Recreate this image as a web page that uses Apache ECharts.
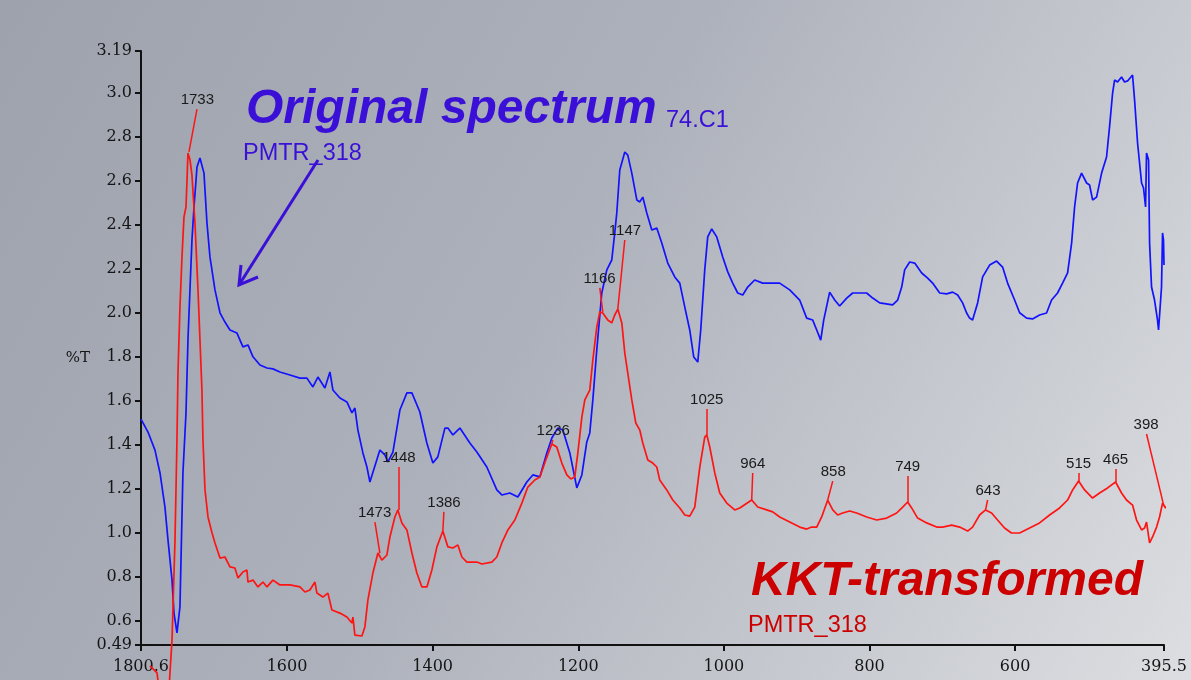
<!DOCTYPE html>
<html>
<head>
<meta charset="utf-8">
<script src="https://cdn.jsdelivr.net/npm/echarts@6.0.0/dist/echarts.min.js"></script>
<style>
  html, body { margin: 0; padding: 0; }
  #chart { width: 1191px; height: 680px; }
</style>
</head>
<body>
<div id="chart"></div>
<script>
// wavenumber (cm-1) and %T
const blueWn = [1800.6,1791.0,1781.4,1774.5,1767.7,1763.5,1758.0,1755.3,1751.2,1747.1,
  1743.0,1738.8,1736.1,1730.6,1727.8,1723.7,1719.6,1716.9,1714.1,1710.0,
  1705.9,1699.0,1692.1,1685.3,1678.4,1668.8,1660.6,1653.7,1646.8,1637.2,
  1627.6,1619.4,1609.8,1596.0,1582.3,1572.7,1564.5,1557.6,1548.0,1541.1,
  1537.0,1527.4,1517.8,1510.9,1506.8,1502.7,1495.8,1490.3,1486.2,1472.5,
  1465.6,1461.5,1454.6,1445.0,1435.4,1428.5,1417.6,1408.0,1399.7,1392.9,
  1383.2,1379.1,1372.2,1362.6,1348.9,1339.3,1325.6,1311.9,1305.0,1294.0,
  1283.0,1270.7,1262.4,1252.8,1243.2,1236.3,1228.1,1221.2,1211.6,1202.0,
  1195.1,1188.3,1184.2,1180.0,1174.6,1167.7,1160.8,1154.0,1149.9,1147.1,
  1143.0,1136.1,1132.0,1126.5,1119.6,1115.5,1111.4,1105.9,1099.0,1092.2,
  1085.3,1077.1,1067.5,1060.6,1053.7,1046.9,1041.4,1035.9,1031.8,1026.3,
  1022.2,1016.7,1009.8,1001.6,994.7,987.9,981.0,974.1,967.3,957.7,
  946.7,937.1,923.4,909.6,895.9,886.3,878.0,872.5,867.0,862.9,
  854.7,847.8,841.0,831.3,823.1,803.9,795.6,786.0,768.2,761.3,
  755.8,751.7,744.8,737.9,728.3,720.1,713.3,703.6,694.0,685.8,
  678.9,672.1,666.6,662.5,658.4,651.5,644.6,635.0,625.4,617.2,
  610.3,600.7,593.8,584.2,576.0,566.4,556.8,549.9,541.7,534.8,
  527.9,522.4,518.3,514.2,508.7,501.8,497.7,493.6,488.1,481.2,
  474.4,470.3,466.1,463.4,459.3,453.8,449.7,445.5,438.7,435.9,
  431.8,426.3,423.6,420.8,419.5,416.7,415.3,412.6,408.5,404.4,
  403.0,398.9,397.5,396.2,395.5];
const blueT = [1.517,1.458,1.376,1.272,1.117,0.967,0.785,0.635,0.545,0.663,
  1.272,1.545,1.876,2.331,2.481,2.663,2.704,2.708,2.635,2.408,
  2.254,2.104,2.0,1.958,1.922,1.908,1.845,1.854,1.8,1.763,
  1.749,1.745,1.731,1.717,1.703,1.703,1.663,1.708,1.658,1.731,
  1.649,1.613,1.595,1.545,1.567,1.467,1.363,1.299,1.231,1.376,
  1.354,1.322,1.367,1.558,1.636,1.636,1.549,1.408,1.317,1.345,
  1.476,1.476,1.445,1.476,1.408,1.367,1.299,1.195,1.172,1.181,
  1.163,1.231,1.263,1.254,1.363,1.431,1.476,1.467,1.363,1.204,
  1.263,1.413,1.454,1.604,1.831,2.09,2.195,2.24,2.363,2.454,
  2.649,2.731,2.717,2.635,2.513,2.504,2.526,2.454,2.376,2.385,
  2.317,2.226,2.163,2.135,2.026,1.922,1.799,1.776,1.922,2.195,
  2.345,2.381,2.345,2.254,2.186,2.135,2.09,2.081,2.117,2.149,
  2.135,2.135,2.135,2.104,2.058,1.976,1.967,1.922,1.876,1.967,
  2.094,2.058,2.031,2.067,2.09,2.09,2.067,2.045,2.036,2.058,
  2.117,2.195,2.231,2.226,2.181,2.158,2.135,2.09,2.086,2.094,
  2.081,2.045,1.999,1.976,1.967,2.045,2.163,2.217,2.235,2.208,
  2.135,2.058,2.0,1.976,1.972,1.99,1.999,2.058,2.09,2.135,
  2.181,2.317,2.481,2.59,2.635,2.59,2.581,2.513,2.526,2.635,
  2.708,2.845,2.999,3.058,3.049,3.072,3.049,3.054,3.081,2.967,
  2.772,2.59,2.567,2.481,2.726,2.695,2.317,2.117,2.058,1.967,
  1.922,2.117,2.363,2.331,2.217];

const redWn = [1788.2,1778.6,1770.4,1761.4,1758.0,1753.9,1751.2,1749.8,1747.1,1744.3,
  1741.6,1738.8,1737.4,1736.1,1734.7,1733.3,1730.6,1726.5,1722.3,1719.6,
  1716.9,1715.5,1712.7,1708.6,1703.1,1699.0,1692.1,1685.3,1678.4,1671.6,
  1667.4,1660.6,1655.1,1653.7,1646.8,1640.0,1633.1,1627.6,1619.4,1609.8,
  1596.0,1582.3,1575.4,1568.6,1561.7,1559.0,1550.7,1543.9,1538.4,1527.4,
  1517.8,1510.9,1509.5,1506.8,1497.2,1493.1,1489.0,1482.1,1475.2,1469.7,
  1462.9,1458.7,1451.9,1447.8,1442.3,1435.4,1428.5,1421.7,1414.8,1407.9,
  1401.1,1394.2,1386.0,1379.1,1372.2,1365.4,1359.9,1353.0,1339.3,1332.4,
  1318.7,1311.9,1305.0,1296.7,1287.1,1277.5,1269.3,1259.7,1252.8,1244.6,
  1236.3,1229.5,1222.6,1215.7,1210.3,1204.8,1200.6,1195.1,1191.0,1184.2,
  1180.0,1174.6,1170.4,1166.3,1159.5,1154.0,1149.9,1145.7,1140.2,1136.1,
  1132.0,1126.5,1121.0,1115.5,1111.4,1104.5,1097.7,1092.2,1088.1,1078.5,
  1070.2,1060.6,1053.7,1046.9,1040.0,1033.1,1026.3,1023.5,1019.4,1012.5,
  1005.7,996.1,985.1,978.2,961.8,953.5,941.2,932.9,923.3,909.6,
  895.9,886.3,879.5,872.5,865.7,857.4,850.5,843.7,836.8,827.2,
  817.6,803.9,790.1,776.4,762.7,754.4,747.6,742.1,733.9,721.5,
  707.8,699.5,687.2,676.2,665.2,658.4,648.8,640.6,632.3,624.1,
  614.5,605.0,593.8,580.1,566.4,552.6,538.9,527.9,521.0,512.8,
  504.6,493.6,484.0,473.0,462.0,453.8,447.0,438.7,433.2,426.3,
  422.2,419.5,415.3,411.2,405.7,401.6,397.5,393.4,390.6];
const redT = [0.395,0.363,0.15,0.331,0.513,0.967,1.422,1.726,2.026,2.254,
  2.435,2.481,2.604,2.726,2.731,2.695,2.626,2.408,2.104,1.876,
  1.649,1.422,1.195,1.072,1.0,0.954,0.885,0.89,0.845,0.84,
  0.795,0.822,0.831,0.776,0.785,0.754,0.776,0.754,0.785,0.763,
  0.763,0.754,0.731,0.74,0.776,0.726,0.708,0.726,0.649,0.635,
  0.617,0.59,0.617,0.535,0.531,0.572,0.694,0.817,0.908,0.876,
  0.899,0.981,1.072,1.104,1.045,1.013,0.908,0.817,0.754,0.754,
  0.831,0.936,1.008,0.936,0.931,0.945,0.89,0.867,0.867,0.858,
  0.867,0.89,0.954,1.013,1.058,1.135,1.208,1.24,1.254,1.331,
  1.404,1.39,1.317,1.263,1.245,1.254,1.363,1.526,1.604,1.649,
  1.785,1.935,2.004,1.999,1.967,1.954,1.99,2.017,1.954,1.817,
  1.726,1.604,1.499,1.467,1.408,1.331,1.317,1.299,1.24,1.195,
  1.149,1.113,1.081,1.076,1.117,1.299,1.435,1.445,1.39,1.272,
  1.181,1.135,1.104,1.113,1.149,1.117,1.104,1.095,1.072,1.049,
  1.026,1.017,1.026,1.026,1.072,1.149,1.104,1.081,1.09,1.099,
  1.09,1.072,1.058,1.067,1.09,1.117,1.14,1.113,1.067,1.045,
  1.026,1.026,1.035,1.026,1.008,1.026,1.081,1.104,1.09,1.058,
  1.022,0.999,0.999,1.022,1.045,1.081,1.113,1.149,1.195,1.235,
  1.195,1.158,1.181,1.204,1.231,1.181,1.149,1.126,1.058,1.013,
  1.022,1.049,0.954,0.981,1.026,1.072,1.135,1.113,1.126];

// peak annotations on the KKT curve: peak point and the top of the leader line
const peakNames = ['1733','1473','1448','1386','1236','1166','1147','1025','964','858','749','643','515','465','398'];
const peakWn = [1734.7,1472.5,1446.4,1386.0,1236.3,1166.3,1145.7,1023.5,961.8,857.4,747.6,640.6,512.8,462.0,396.0];
const peakT  = [2.731,0.908,1.104,1.008,1.404,2.004,2.017,1.445,1.149,1.149,1.14,1.104,1.235,1.231,1.126];
const tagWn  = [1723.7,1479.3,1446.4,1384.6,1235.0,1170.4,1136.1,1023.5,960.4,850.5,747.6,637.8,512.8,462.0,419.5];
const tagT   = [2.926,1.049,1.299,1.095,1.422,2.113,2.331,1.563,1.272,1.235,1.258,1.149,1.272,1.29,1.449];

const xTickValues = [1800.6, 1600, 1400, 1200, 1000, 800, 600, 395.5];
const yTickValues = [0.49, 0.6, 0.8, 1.0, 1.2, 1.4, 1.6, 1.8, 2.0, 2.2, 2.4, 2.6, 2.8, 3.0, 3.19];
const yTickLabels = ['0.49','0.6','0.8','1.0','1.2','1.4','1.6','1.8','2.0','2.2','2.4','2.6','2.8','3.0','3.19'];

const blueData = blueWn.map((w, i) => [w, blueT[i]]);
const redData = redWn.map((w, i) => [w, redT[i]]);

const chart = echarts.init(document.getElementById('chart'));

const violet = '#3a10d8';
const serif = '"DejaVu Serif", "Liberation Serif", serif';
const sans = '"Liberation Sans", Arial, sans-serif';

const option = {
  animation: false,
  backgroundColor: {
    type: 'linear', x: 0, y: 0, x2: 1, y2: 1,
    colorStops: [
      { offset: 0, color: '#9ea2ad' },
      { offset: 0.45, color: '#adb1bb' },
      { offset: 1, color: '#dcdee1' }
    ]
  },
  grid: { left: 141, right: 27, top: 51, bottom: 35, outerBoundsMode: 'none' },
  xAxis: {
    type: 'value',
    inverse: true,
    min: 395.5,
    max: 1800.6,
    axisLine: { show: true, onZero: false, lineStyle: { color: '#111', width: 2 } },
    axisTick: { show: true, customValues: xTickValues, length: 6, lineStyle: { color: '#111', width: 2 } },
    axisLabel: {
      customValues: xTickValues,
      formatter: (v) => String(v),
      fontFamily: serif,
      fontSize: 16,
      color: '#151515',
      margin: 14
    },
    splitLine: { show: false }
  },
  yAxis: {
    type: 'value',
    min: 0.49,
    max: 3.19,
    axisLine: { show: true, lineStyle: { color: '#111', width: 2 } },
    axisTick: { show: true, customValues: yTickValues, length: 6, lineStyle: { color: '#111', width: 2 } },
    axisLabel: {
      customValues: yTickValues,
      formatter: (v) => {
        let best = 0;
        yTickValues.forEach((t, i) => { if (Math.abs(t - v) < Math.abs(yTickValues[best] - v)) best = i; });
        return yTickLabels[best];
      },
      fontFamily: serif,
      fontSize: 16,
      color: '#151515',
      margin: 9
    },
    splitLine: { show: false }
  },
  series: [
    {
      name: 'Original spectrum',
      type: 'line',
      data: blueData,
      showSymbol: false,
      clip: false,
      lineStyle: { color: '#1212ff', width: 1.7 },
      itemStyle: { color: '#1212ff' },
      silent: true
    },
    {
      name: 'KKT-transformed',
      type: 'line',
      data: redData,
      showSymbol: false,
      clip: false,
      lineStyle: { color: '#ff1414', width: 1.7 },
      itemStyle: { color: '#ff1414' },
      silent: true,
      markLine: {
        silent: true,
        animation: false,
        symbol: ['none', 'none'],
        lineStyle: { color: '#ff1414', width: 1.5, type: 'solid' },
        label: {
          show: true,
          position: 'end',
          formatter: '{b}',
          color: '#1a1a1a',
          fontFamily: sans,
          fontSize: 15,
          distance: 2
        },
        emphasis: { disabled: true },
        data: peakNames.map((n, i) => [
          { name: n, coord: [peakWn[i], peakT[i]] },
          { coord: [tagWn[i], tagT[i]] }
        ])
      }
    }
  ],
  graphic: [
    { type: 'text', x: 246, y: 110, style: { text: 'Original spectrum', font: 'italic bold 48px ' + sans, fill: violet, verticalAlign: 'middle' } },
    { type: 'text', x: 666, y: 121, style: { text: '74.C1', font: '23.5px ' + sans, fill: violet, verticalAlign: 'middle' } },
    { type: 'text', x: 243, y: 154, style: { text: 'PMTR_318', font: '23.5px ' + sans, fill: violet, verticalAlign: 'middle' } },
    { type: 'polyline', shape: { points: [[318, 160], [239, 285]] }, style: { stroke: violet, lineWidth: 3, fill: null } },
    { type: 'polyline', shape: { points: [[241, 265], [239, 285], [258, 277]] }, style: { stroke: violet, lineWidth: 3, fill: null } },
    { type: 'text', x: 751, y: 582, style: { text: 'KKT-transformed', font: 'italic bold 48px ' + sans, fill: '#cc0000', verticalAlign: 'middle' } },
    { type: 'text', x: 748, y: 626, style: { text: 'PMTR_318', font: '23.5px ' + sans, fill: '#cc0000', verticalAlign: 'middle' } },
    { type: 'text', x: 78, y: 358, style: { text: '%T', font: '15px ' + serif, fill: '#151515', align: 'center', verticalAlign: 'middle' } }
  ]
};

chart.setOption(option);
</script>
</body>
</html>
